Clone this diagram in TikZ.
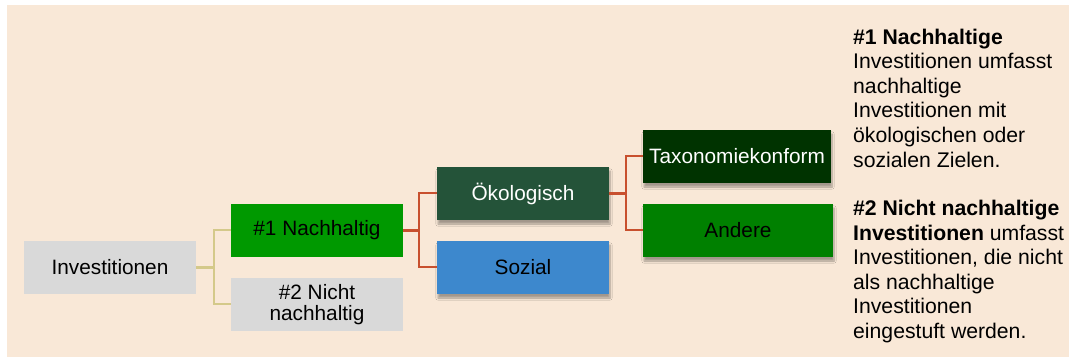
\documentclass[tikz,border=0pt]{standalone}
\usepackage{fontspec}
\setmainfont{Liberation Sans}
\usepackage{xcolor}
\usepackage{tikz}
\usetikzlibrary{calc, shadows.blur}

\definecolor{peach}{HTML}{F9E8D7}
\definecolor{lightgrey}{HTML}{D9D9D9}
\definecolor{brightgreen}{HTML}{009900}
\definecolor{darkgreen}{HTML}{245339}
\definecolor{skyblue}{HTML}{3D88CD}
\definecolor{deepgreen}{HTML}{003300}
\definecolor{midgreen}{HTML}{008000}
\definecolor{linkyellow}{HTML}{D4C98A}
\definecolor{linkred}{HTML}{C8502E}

\begin{document}
\begin{tikzpicture}[x=1pt, y=-1pt,
    box/.style={minimum width=172pt, minimum height=53pt, inner sep=0pt, align=center,
        font=\fontsize{20.8}{23}\selectfont},
    shade box/.style={box, blur shadow={shadow xshift=1pt, shadow yshift=-4pt,
        shadow blur steps=6, shadow opacity=35}},
    ylink/.style={linkyellow, line width=2pt},
    rlink/.style={linkred, line width=2pt}]

    % Background
    \useasboundingbox (0, 0) rectangle (1069, 358);
    \fill[peach] (7, 5) rectangle (1069, 357);

    % Level 1
    \node[box, fill=lightgrey] (inv) at (110, 267.5) {Investitionen};

    % Level 2
    \node[box, fill=brightgreen] (nach) at (317, 230.5) {\#1 Nachhaltig};
    \node[box, fill=lightgrey] (nicht) at (317, 304.5) {\#2 Nicht\\[-2pt]nachhaltig};

    % Level 3
    \node[shade box, fill=darkgreen, text=white] (oeko) at (523, 193.5) {Ökologisch};
    \node[shade box, fill=skyblue] (sozial) at (523, 267.5) {Sozial};

    % Level 4
    \node[shade box, minimum width=188pt, fill=deepgreen, text=white] (taxo) at (737, 156.5) {Taxonomiekonform};
    \node[shade box, minimum width=190pt, fill=midgreen] (andere) at (738, 230.5) {Andere};

    % Connectors
    \draw[ylink, line width=2.5pt] (inv.east) -- ++(18, 0) coordinate (j1);
    \draw[ylink] (j1) |- (nach.west);
    \draw[ylink] (j1) |- (nicht.west);

    \draw[rlink, line width=3pt] (nach.east) -- ++(16, 0) coordinate (j2);
    \draw[rlink] (j2) |- (oeko.west);
    \draw[rlink] (j2) |- (sozial.west);

    \draw[rlink, line width=3pt] (oeko.east) -- ++(17, 0) coordinate (j3);
    \draw[rlink] (j3) |- (taxo.west);
    \draw[rlink] (j3) |- (andere.west);

    % Side notes
    \node[anchor=north west, inner sep=0pt, align=left, font=\fontsize{21.2}{24.6}\selectfont] (note1) at (853, 28.5) {
        \textbf{\#1 Nachhaltige}\\
        Investitionen umfasst\\
        nachhaltige\\
        Investitionen mit\\
        ökologischen oder\\
        sozialen Zielen.
    };
    \node[anchor=north west, inner sep=0pt, align=left, font=\fontsize{21.2}{24.6}\selectfont] (note2) at (853, 200) {
        \textbf{\#2 Nicht nachhaltige}\\
        \textbf{Investitionen} umfasst\\
        Investitionen, die nicht\\
        als nachhaltige\\
        Investitionen\\
        eingestuft werden.
    };

\end{tikzpicture}
\end{document}
